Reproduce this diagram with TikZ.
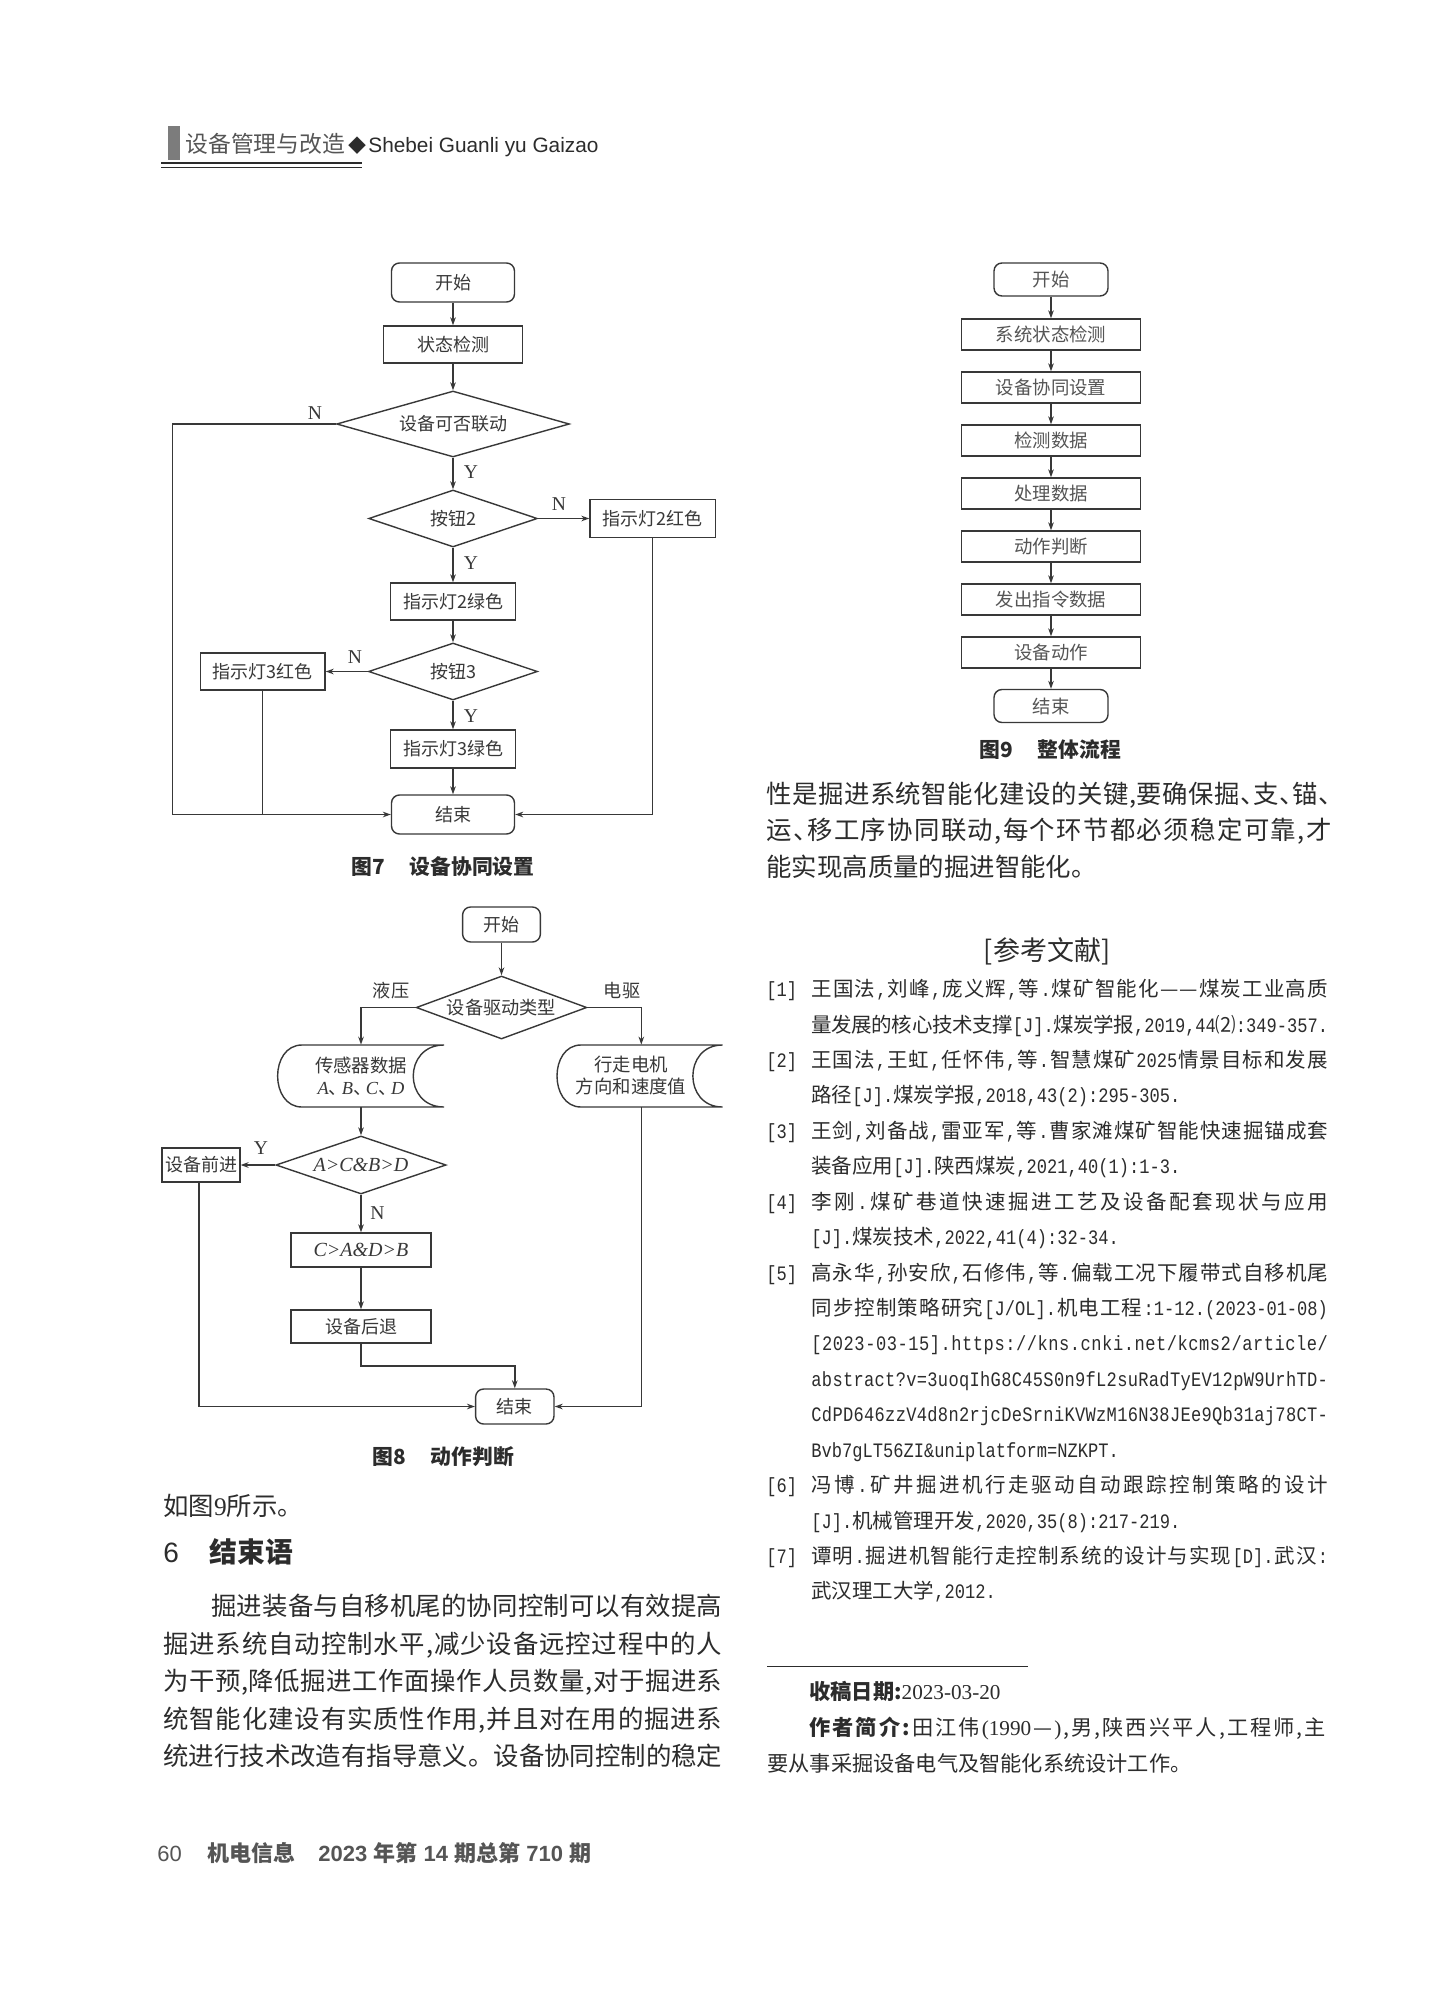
\documentclass[tikz,border=0pt]{standalone}
\usepackage{fontspec}
\setmainfont{Noto Sans CJK SC}
\newfontfamily\tms{Liberation Serif}
\newfontfamily\ars{Liberation Sans}
\newfontfamily\mn[FakeStretch=0.833]{Liberation Mono}
\usetikzlibrary{shapes.geometric,arrows.meta}
\definecolor{ink}{HTML}{2C2C2C}
\definecolor{fl}{HTML}{383838}
\definecolor{hdr}{HTML}{555555}
\definecolor{bar}{HTML}{7C7C7C}
\makeatletter
\newcommand\spl[2]{\hbox to #1{\@tfor\spl@it:=#2\do{{\spl@it}\hss}\unskip}}
\makeatother
\newcommand\dn{\makebox[.5em][l]{、}}
\newcommand\dnm{\makebox[.7em][l]{、}}
\newcommand\rc{{\mn,}}
\newcommand\rp{{\mn.}}
\newcommand\fs[1]{\fontsize{#1}{#1}\selectfont}
\newcommand\fsb[2]{\fontsize{#1}{#2}\selectfont}
\tikzset{
  fbox/.style={draw=fl, line width=.7pt, inner sep=0, text=fl, font=\fs{9pt}},
  rbox/.style={fbox, rounded corners=4pt},
  nbox/.style={fbox, minimum width=89.5pt, minimum height=15.5pt, font=\fs{9.2pt}, text=hdr},
  lbl/.style={inner sep=0, text=fl, font=\tms\fs{9.8pt}},
  lblc/.style={inner sep=0, text=fl, font=\fs{9.1pt}},
  ln/.style={draw=fl, line width=.7pt},
  arr/.style={ln, -{Stealth[length=4pt,width=2.8pt]}},
  tl/.style={inner sep=0, anchor=west, text=ink, text height=.88em, text depth=.12em},
  figcap/.style={inner sep=0, text=ink, font=\bfseries\fs{10.4pt}},
}
\begin{document}
\begin{tikzpicture}[x=0.5pt,y=-0.5pt]
\useasboundingbox (0,0) rectangle (1451,1995);
\fill[white] (0,0) rectangle (1451,1995);

% ---------- header ----------
\fill[bar] (168,126) rectangle (180,160);
\node[tl, text=hdr, font=\fs{11.4pt}] (h1) at (185,145) {设备管理与改造};
\node[tl, font=\fs{9pt}] (h2) at (348,145) {◆};
\node[anchor=base west, inner sep=0, text=ink, font=\ars\fs{10.4pt}] (h3) at (368,153) {Shebei Guanli yu Gaizao};
\draw[ink, line width=1pt] (161,163) -- (362,163);
\draw[ink, line width=.5pt] (161,167.2) -- (362,167.2);

% ---------- figure 7 ----------
\node[rbox, minimum width=61.5pt, minimum height=19.5pt] (s7) at (453,282.5) {开始};
\node[fbox, minimum width=69.6pt, minimum height=18.5pt] (c7) at (453,344.5) {状态检测};
\node[fbox, diamond, shape aspect=3.5, minimum width=116.4pt, minimum height=33pt] (q1) at (453,424) {设备可否联动};
\node[fbox, diamond, shape aspect=2.96, minimum width=84.3pt, minimum height=28.5pt] (q2) at (453,518.5) {按钮2};
\node[fbox, minimum width=62.7pt, minimum height=19pt] (r2) at (652.7,518.5) {指示灯2红色};
\node[fbox, minimum width=62.5pt, minimum height=18.5pt] (g2) at (453,601.5) {指示灯2绿色};
\node[fbox, diamond, shape aspect=2.96, minimum width=84.5pt, minimum height=28.5pt] (q3) at (453,671.5) {按钮3};
\node[fbox, minimum width=62.3pt, minimum height=18.5pt] (r3) at (262.7,671.5) {指示灯3红色};
\node[fbox, minimum width=62.5pt, minimum height=19pt] (g3) at (453,749) {指示灯3绿色};
\node[rbox, minimum width=61.5pt, minimum height=19.5pt] (e7) at (453,814.5) {结束};
\coordinate (l7) at (172.5,424);
\draw[arr] (s7) -- (c7);
\draw[arr] (c7) -- (q1);
\draw[arr] (q1) -- (q2);
\draw[arr] (q2) -- (r2);
\draw[arr] (q2) -- (g2);
\draw[arr] (g2) -- (q3);
\draw[arr] (q3) -- (r3);
\draw[arr] (q3) -- (g3);
\draw[arr] (g3) -- (e7);
\draw[arr] (q1.west) -- (l7) |- (e7.west);
\draw[ln] (r3.south) -- (r3.south |- e7.west);
\draw[arr] (r2.south) |- (e7.east);
\node[lbl] (n71) at (315,413) {N};
\node[lbl] (y71) at (471,472) {Y};
\node[lbl] (n72) at (559,504) {N};
\node[lbl] (y72) at (471,563) {Y};
\node[lbl] (n73) at (355,657) {N};
\node[lbl] (y73) at (471,716) {Y};
\node[figcap] (cap7) at (443,867) {图7\hspace{1.2em}设备协同设置};

% ---------- figure 8 ----------
\node[rbox, minimum width=38.9pt, minimum height=17.5pt] (s8) at (501.5,924.5) {开始};
\node[fbox, diamond, shape aspect=2.7, minimum width=85.3pt, minimum height=31.5pt, font=\fs{9.1pt}] (dt) at (501.5,1007.5) {设备驱动类型};
\node[lblc] (yy) at (391,991) {液压};
\node[lblc] (dq) at (622,991) {电驱};
\node[inner sep=0, minimum height=31pt, align=center, text=fl, font=\fsb{9.2pt}{11pt}] (d1) at (361,1076)
  {传感器数据\\{\tms\itshape A}\dnm{\tms\itshape B}\dnm{\tms\itshape C}\dnm{\tms\itshape D}};
\node[inner sep=0, minimum height=31pt, align=center, text=fl, font=\fsb{9.2pt}{11pt}] (d2) at (631,1076)
  {行走电机\\方向和速度值};
\draw[ln] (302,1045) -- (444,1045) .. controls (403,1045) and (403,1107) .. (444,1107)
  -- (302,1107) .. controls (269.5,1107) and (269.5,1045) .. (302,1045) -- cycle;
\draw[ln] (581,1045) -- (722.5,1045) .. controls (683,1045) and (683,1107) .. (722.5,1107)
  -- (581,1107) .. controls (549,1107) and (549,1045) .. (581,1045) -- cycle;
\node[fbox, diamond, shape aspect=2.93, minimum width=85.1pt, minimum height=29pt, font=\tms\itshape\fs{10pt}] (q8) at (361,1165) {A>C\&B>D};
\node[fbox, minimum width=38.9pt, minimum height=17pt] (fw) at (201,1165) {设备前进};
\node[fbox, minimum width=70pt, minimum height=17pt, font=\tms\itshape\fs{10pt}] (cr) at (361,1250) {C>A\&D>B};
\node[fbox, minimum width=70pt, minimum height=16.5pt] (bk) at (361,1326.5) {设备后退};
\node[rbox, minimum width=39.2pt, minimum height=17.5pt] (e8) at (514.8,1406.5) {结束};
\coordinate (k8) at (361,1366);
\draw[arr] (s8) -- (dt);
\draw[arr] (dt.west) -| (d1.north);
\draw[arr] (dt.east) -| ([xshift=5.15pt]d2.north);
\draw[arr] (d1) -- (q8);
\draw[arr] (q8) -- (fw);
\draw[arr] (q8) -- (cr);
\draw[arr] (cr) -- (bk);
\draw[arr] (bk.south) -- (k8) -| (e8.north);
\draw[arr] ([xshift=-1pt]fw.south) |- (e8.west);
\draw[arr] ([xshift=5.15pt]d2.south) |- (e8.east);
\node[lbl] (y81) at (261,1148) {Y};
\node[lbl] (n81) at (377.5,1213) {N};
\node[figcap] (cap8) at (443.4,1457) {图8\hspace{1.2em}动作判断};

% ---------- figure 9 ----------
\node[rbox, minimum width=57pt, minimum height=16.5pt, font=\fs{9.2pt}, text=hdr] (f0) at (1051,279.5) {开始};
\node[nbox] (f1) at (1051,334.5) {系统状态检测};
\node[nbox] (f2) at (1051,387.5) {设备协同设置};
\node[nbox] (f3) at (1051,440.5) {检测数据};
\node[nbox] (f4) at (1051,493.5) {处理数据};
\node[nbox] (f5) at (1051,546.5) {动作判断};
\node[nbox] (f6) at (1051,599.5) {发出指令数据};
\node[nbox] (f7) at (1051,652.5) {设备动作};
\node[rbox, minimum width=57pt, minimum height=16.5pt, font=\fs{9.2pt}, text=hdr] (f8) at (1051,706) {结束};
\draw[arr] (f0) -- (f1);
\draw[arr] (f1) -- (f2);
\draw[arr] (f2) -- (f3);
\draw[arr] (f3) -- (f4);
\draw[arr] (f4) -- (f5);
\draw[arr] (f5) -- (f6);
\draw[arr] (f6) -- (f7);
\draw[arr] (f7) -- (f8);
\node[figcap] (cap9) at (1050,750) {图9\hspace{1.2em}整体流程};

% ---------- right column text ----------
\node[tl, font=\fs{12.7pt}] (r1) at (766,795.5) {\spl{282.5pt}{性是掘进系统智能化建设的关键,要确保掘\dn 支\dn 锚\dn}};
\node[tl, font=\fs{12.7pt}] (r2t) at (766,832) {\spl{282.5pt}{运\dn 移工序协同联动,每个环节都必须稳定可靠,才}};
\node[tl, font=\fs{12.7pt}] (r3t) at (766,869) {能实现高质量的掘进智能化。};

% ---------- references ----------
\node[inner sep=0, text=ink, font=\fs{13.5pt}] (refh) at (1047,951) {[参考文献]};
\begin{scope}[every node/.style={tl, font=\fs{10.25pt}}]
\node (n1) at (766,989) {\mn[1]};
\node (t0) at (811,989) {\spl{258.3pt}{王国法\rc 刘峰\rc 庞义辉\rc 等\rp 煤矿智能化——煤炭工业高质}};
\node (t1) at (811,1024.4) {\spl{258.3pt}{量发展的核心技术支撑{\mn[J].}煤炭学报{\mn,2019,44}⑵{\mn:349-357.}}};
\node (n2) at (766,1059.9) {\mn[2]};
\node (t2) at (811,1059.9) {\spl{258.3pt}{王国法\rc 王虹\rc 任怀伟\rc 等\rp 智慧煤矿{\mn 2025}情景目标和发展}};
\node (t3) at (811,1095.3) {路径{\mn[J].}煤炭学报{\mn,2018,43(2):295-305.}};
\node (n3) at (766,1130.7) {\mn[3]};
\node (t4) at (811,1130.7) {\spl{258.3pt}{王剑\rc 刘备战\rc 雷亚军\rc 等\rp 曹家滩煤矿智能快速掘锚成套}};
\node (t5) at (811,1166.2) {装备应用{\mn[J].}陕西煤炭{\mn,2021,40(1):1-3.}};
\node (n4) at (766,1201.6) {\mn[4]};
\node (t6) at (811,1201.6) {\spl{258.3pt}{李刚\rp 煤矿巷道快速掘进工艺及设备配套现状与应用}};
\node (t7) at (811,1237) {{\mn[J].}煤炭技术{\mn,2022,41(4):32-34.}};
\node (n5) at (766,1272.4) {\mn[5]};
\node (t8) at (811,1272.4) {\spl{258.3pt}{高永华\rc 孙安欣\rc 石修伟\rc 等\rp 偏载工况下履带式自移机尾}};
\node (t9) at (811,1307.9) {\spl{258.3pt}{同步控制策略研究{\mn[J/OL].}机电工程{\mn:1-12.(2023-01-08)}}};
\node[font=\mn\fs{10.25pt}] (t10) at (811,1343.3) {\spl{258.3pt}{[2023-03-15].https://kns.cnki.net/kcms2/article/}};
\node[font=\mn\fs{10.25pt}] (t11) at (811,1378.7) {\spl{258.3pt}{abstract?v=3uoqIhG8C45S0n9fL2suRadTyEV12pW9UrhTD-}};
\node[font=\mn\fs{10.25pt}] (t12) at (811,1414.2) {\spl{258.3pt}{CdPD646zzV4d8n2rjcDeSrniKVWzM16N38JEe9Qb31aj78CT-}};
\node[font=\mn\fs{10.25pt}] (t13) at (811,1449.6) {Bvb7gLT56ZI\&uniplatform=NZKPT.};
\node (n6) at (766,1485) {\mn[6]};
\node (t14) at (811,1485) {\spl{258.3pt}{冯博\rp 矿井掘进机行走驱动自动跟踪控制策略的设计}};
\node (t15) at (811,1520.5) {{\mn[J].}机械管理开发{\mn,2020,35(8):217-219.}};
\node (n7) at (766,1555.9) {\mn[7]};
\node (t16) at (811,1555.9) {\spl{258.3pt}{谭明\rp 掘进机智能行走控制系统的设计与实现{\mn[D].}武汉{\mn:}}};
\node (t17) at (811,1591.3) {武汉理工大学{\mn,2012.}};
\end{scope}

% ---------- author notes ----------
\draw[ink, line width=.5pt] (767,1666) -- (1028,1666);
\node[tl, font=\fs{10.6pt}] (rcv) at (809,1692) {{\bfseries 收稿日期:}{\tms 2023-03-20}};
\node[tl, font=\fs{10.6pt}] (au1) at (809,1727.5) {\spl{258.3pt}{{\bfseries 作}{\bfseries 者}{\bfseries 简}{\bfseries 介}{\bfseries :}田江伟{\tms(1990}—{\tms)},男,陕西兴平人,工程师,主}};
\node[tl, font=\fs{10.6pt}] (au2) at (767,1763.5) {要从事采掘设备电气及智能化系统设计工作。};

% ---------- left column text ----------
\node[tl, font=\fs{12.7pt}] (l0) at (163,1507.5) {如图{\tms 9}所示。};
\node[tl, font=\ars\fs{14pt}] (hn) at (163,1555) {6};
\node[tl, font=\bfseries\fs{13.9pt}] (ht) at (209,1555) {结束语};
\node[tl, font=\fs{12.7pt}] (p1) at (211,1608) {\spl{255.5pt}{掘进装备与自移机尾的协同控制可以有效提高}};
\node[tl, font=\fs{12.7pt}] (p2) at (163,1645.5) {\spl{279.5pt}{掘进系统自动控制水平,减少设备远控过程中的人}};
\node[tl, font=\fs{12.7pt}] (p3) at (163,1683) {\spl{279.5pt}{为干预,降低掘进工作面操作人员数量,对于掘进系}};
\node[tl, font=\fs{12.7pt}] (p4) at (163,1720.5) {\spl{279.5pt}{统智能化建设有实质性作用,并且对在用的掘进系}};
\node[tl, font=\fs{12.7pt}] (p5) at (163,1758) {\spl{279.5pt}{统进行技术改造有指导意义。设备协同控制的稳定}};

% ---------- footer ----------
\node[tl, text=hdr, font=\ars\fs{11pt}] (pg) at (157,1854) {60};
\node[tl, text=hdr, font=\bfseries\fs{11pt}] (jn) at (207,1854) {机电信息};
\node[tl, text=hdr, font=\bfseries\fs{11pt}] (iss) at (318,1854) {{\ars\bfseries 2023}\hspace{.28em}年第\hspace{.28em}{\ars\bfseries 14}\hspace{.28em}期总第\hspace{.28em}{\ars\bfseries 710}\hspace{.28em}期};
\end{tikzpicture}
\end{document}
